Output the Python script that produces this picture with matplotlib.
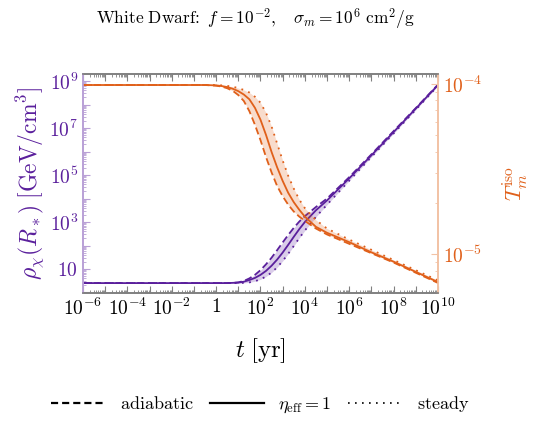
import numpy as np
import matplotlib
matplotlib.use('Agg')
import matplotlib.pyplot as plt
from matplotlib.ticker import LogLocator, NullFormatter
from matplotlib.lines import Line2D

plt.rcParams['mathtext.fontset'] = 'cm'
plt.rcParams['font.family'] = 'DejaVu Serif'

# log10(t / yr)
log_t = [-6, -4, -2, -1, -0.5, 0, 0.25, 0.5, 0.75, 1, 1.25, 1.5, 1.75, 2, 2.25, 2.5, 2.75,
         3, 3.25, 3.5, 3.75, 4, 4.5, 5, 6, 7, 8, 9, 10]

# log10 rho_chi(R_*) [GeV/cm^3]
rho_adiabatic = [0.40, 0.40, 0.40, 0.40, 0.40, 0.40, 0.40, 0.40, 0.41, 0.43, 0.49, 0.60, 0.75,
                 0.95, 1.20, 1.48, 1.80, 2.13, 2.45, 2.75, 3.02, 3.25, 3.64, 4.00, 4.91, 5.88,
                 6.87, 7.85, 8.85]
rho_eta1 = [0.40, 0.40, 0.40, 0.40, 0.40, 0.40, 0.40, 0.40, 0.41, 0.42, 0.46, 0.53, 0.62,
            0.75, 0.92, 1.14, 1.40, 1.70, 2.03, 2.37, 2.70, 3.00, 3.50, 3.92, 4.86, 5.84,
            6.83, 7.83, 8.83]
rho_steady = [0.40, 0.40, 0.40, 0.40, 0.40, 0.40, 0.40, 0.40, 0.40, 0.40, 0.41, 0.43, 0.48,
              0.56, 0.68, 0.85, 1.07, 1.34, 1.65, 1.98, 2.32, 2.64, 3.22, 3.74, 4.76, 5.77,
              6.77, 7.78, 8.80]

# log10 T_m^iso
T_adiabatic = [-4.006, -4.006, -4.006, -4.006, -4.006, -4.010, -4.015, -4.025, -4.040, -4.065,
               -4.100, -4.160, -4.240, -4.330, -4.430, -4.520, -4.600, -4.660, -4.710, -4.750,
               -4.780, -4.805, -4.850, -4.885, -4.940, -4.995, -5.050, -5.110, -5.170]
T_eta1 = [-4.006, -4.006, -4.006, -4.006, -4.006, -4.008, -4.012, -4.018, -4.028, -4.042,
          -4.062, -4.090, -4.140, -4.210, -4.300, -4.400, -4.490, -4.570, -4.640, -4.695,
          -4.740, -4.780, -4.840, -4.875, -4.930, -4.990, -5.045, -5.105, -5.165]
T_steady = [-4.006, -4.006, -4.006, -4.006, -4.006, -4.006, -4.008, -4.011, -4.016, -4.024,
            -4.035, -4.050, -4.075, -4.110, -4.170, -4.250, -4.350, -4.450, -4.540, -4.615,
            -4.680, -4.730, -4.800, -4.850, -4.915, -4.975, -5.035, -5.095, -5.155]

purple = '#5a1f9c'
orange = '#e0601a'

t = 10 ** np.array(log_t)

fig = plt.figure(figsize=(5.34, 4.28), dpi=100)
ax = fig.add_axes([0.1554, 0.3154, 0.6648, 0.5117])
ax2 = ax.twinx()

# density (left axis)
ax.fill_between(t, 10 ** np.array(rho_adiabatic), 10 ** np.array(rho_steady), color=purple, alpha=0.22, lw=0)
ax.plot(t, 10 ** np.array(rho_adiabatic), color=purple, ls=(0, (4, 2)), lw=1.3)
ax.plot(t, 10 ** np.array(rho_eta1), color=purple, ls='-', lw=1.3)
ax.plot(t, 10 ** np.array(rho_steady), color=purple, ls=(0, (1, 3)), lw=1.3)

# temperature (right axis)
ax2.fill_between(t, 10 ** np.array(T_adiabatic), 10 ** np.array(T_steady), color=orange, alpha=0.22, lw=0)
ax2.plot(t, 10 ** np.array(T_adiabatic), color=orange, ls=(0, (4, 2)), lw=1.3)
ax2.plot(t, 10 ** np.array(T_eta1), color=orange, ls='-', lw=1.3)
ax2.plot(t, 10 ** np.array(T_steady), color=orange, ls=(0, (1, 3)), lw=1.3)

ax.set_xscale('log')
ax.set_yscale('log')
ax2.set_yscale('log')
ax.set_xlim(1e-6, 1e10)
ax.set_ylim(0.95, 2e9)
ax2.set_ylim(5.9e-6, 1.145e-4)

# x ticks
xt = [10.0 ** k for k in range(-6, 11)]
xl = []
for k in range(-6, 11):
    if k % 2 != 0:
        xl.append('')
    elif k == 0:
        xl.append(r'$1$')
    else:
        xl.append(r'$10^{%d}$' % k)
ax.set_xticks(xt)
ax.set_xticklabels(xl, fontsize=14)
ax.xaxis.set_minor_locator(LogLocator(base=10, subs=np.arange(2, 10), numticks=100))
ax.xaxis.set_minor_formatter(NullFormatter())

# left y ticks
yt = [10.0 ** k for k in range(0, 10)]
yl = []
for k in range(0, 10):
    if k == 1:
        yl.append(r'$10$')
    elif k % 2 == 1:
        yl.append(r'$10^{%d}$' % k)
    else:
        yl.append('')
ax.set_yticks(yt)
ax.set_yticklabels(yl, fontsize=14, color=purple)
ax.yaxis.set_minor_locator(LogLocator(base=10, subs=np.arange(2, 10), numticks=100))
ax.yaxis.set_minor_formatter(NullFormatter())

# right y ticks
ax2.set_yticks([1e-5, 1e-4])
ax2.set_yticklabels([r'$10^{-5}$', r'$10^{-4}$'], fontsize=14, color=orange)
ax2.yaxis.set_minor_locator(LogLocator(base=10, subs=np.arange(2, 10), numticks=100))
ax2.yaxis.set_minor_formatter(NullFormatter())

ax.tick_params(axis='x', which='both', direction='in', top=True, color='#808080')
ax.tick_params(axis='x', which='major', length=5)
ax.tick_params(axis='x', which='minor', length=2.5)
ax.tick_params(axis='y', which='both', direction='in', color='#b9a0d6')
ax.tick_params(axis='y', which='major', length=5)
ax.tick_params(axis='y', which='minor', length=2.5)
ax2.tick_params(axis='y', which='both', direction='in', color='#f2c2a4')
ax2.tick_params(axis='y', which='major', length=5)
ax2.tick_params(axis='y', which='minor', length=2.5)

for a in (ax, ax2):
    a.spines['top'].set_color('#808080')
    a.spines['bottom'].set_color('#808080')
    a.spines['left'].set_color('#b9a0d6')
    a.spines['right'].set_color('#f2c2a4')
    for s in a.spines.values():
        s.set_linewidth(1.2)

ax.set_xlabel(r'$t\;[\mathrm{yr}]$', fontsize=18, labelpad=12)
ax.set_ylabel(r'$\rho_\chi(R_*)\;[\mathrm{GeV/cm^3}]$', fontsize=17, color=purple, labelpad=2)
ax2.set_ylabel(r'$T_m^{\mathrm{iso}}$', fontsize=16, color=orange, labelpad=13)

fig.text(0.478, 0.955, r'$\mathrm{White\ Dwarf\!:}\ f=10^{-2},\quad \sigma_m=10^6\ \mathrm{cm^2/g}$',
         ha='center', va='center', fontsize=12.5)

handles = [Line2D([], [], color='black', ls=(0, (3.2, 1.8)), lw=1.6),
           Line2D([], [], color='black', ls='-', lw=1.6),
           Line2D([], [], color='black', ls=(0, (1, 3.2)), lw=1.2)]
labels = [r'$\mathrm{adiabatic}$', r'$\eta_{\rm eff}=1$', r'$\mathrm{steady}$']
fig.legend(handles, labels, loc='center', bbox_to_anchor=(0.487, 0.055), ncol=3, frameon=False,
           fontsize=13, handlelength=3.0, columnspacing=0.9, handletextpad=0.8)

fig.savefig('out.png', dpi=100)
